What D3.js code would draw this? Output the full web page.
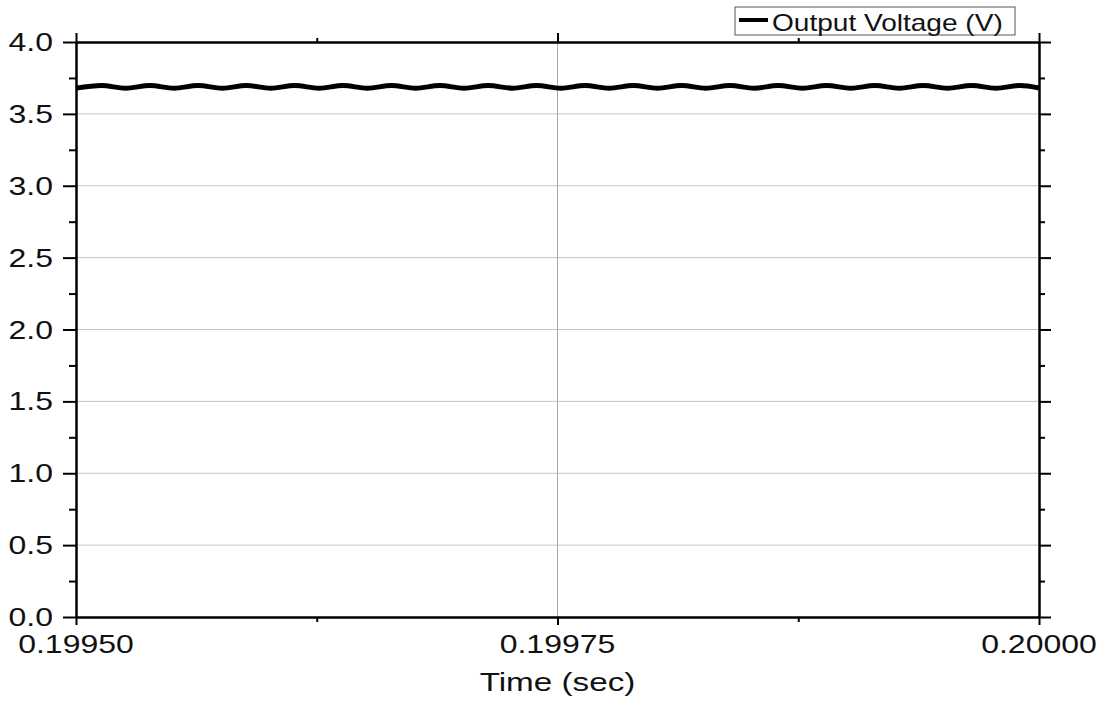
<!DOCTYPE html>
<html>
<head>
<meta charset="utf-8">
<script src="https://cdn.jsdelivr.net/npm/d3@7"></script>
<style>
  body { margin: 0; background: #fff; }
  text { font-family: "Liberation Sans", Arial, sans-serif; fill: #111; }
</style>
</head>
<body>
<svg id="chart" width="1110" height="708"></svg>
<script>
// Output voltage ripple over the last 0.5 ms of the simulation
const timeSec = [
  0.1995000, 0.1995132, 0.1995258, 0.1995383, 0.1995509, 0.1995634, 0.1995760,
  0.1995885, 0.1996011, 0.1996136, 0.1996262, 0.1996387, 0.1996513, 0.1996638,
  0.1996764, 0.1996889, 0.1997015, 0.1997140, 0.1997266, 0.1997391, 0.1997517,
  0.1997642, 0.1997768, 0.1997893, 0.1998019, 0.1998144, 0.1998270, 0.1998395,
  0.1998521, 0.1998646, 0.1998772, 0.1998897, 0.1999023, 0.1999148, 0.1999274,
  0.1999399, 0.1999525, 0.1999650, 0.1999776, 0.1999901, 0.2000000
];
const voltage = [
  3.679, 3.697, 3.679, 3.697, 3.679, 3.697, 3.679,
  3.697, 3.679, 3.697, 3.679, 3.697, 3.679, 3.697,
  3.679, 3.697, 3.679, 3.697, 3.679, 3.697, 3.679,
  3.697, 3.679, 3.697, 3.679, 3.697, 3.679, 3.697,
  3.679, 3.697, 3.679, 3.697, 3.679, 3.697, 3.679,
  3.697, 3.679, 3.697, 3.679, 3.697, 3.680
];

const xMajorTicks = [0.1995, 0.19975, 0.2];
const xMinorTicks = [0.199625, 0.199875];
const xTickLabels = ["0.19950", "0.19975", "0.20000"];
const yMajorTicks = [0, 0.5, 1.0, 1.5, 2.0, 2.5, 3.0, 3.5, 4.0];
const yMinorTicks = [0.25, 0.75, 1.25, 1.75, 2.25, 2.75, 3.25, 3.75];
const yTickLabels = ["0.0", "0.5", "1.0", "1.5", "2.0", "2.5", "3.0", "3.5", "4.0"];
const seriesName = "Output Voltage (V)";
const xTitle = "Time (sec)";

const svg = d3.select("#chart");
const plotLeft = 76, plotRight = 1039, plotTop = 42, plotBottom = 617;
const stretch = 1.28; // wide glyphs

const x = d3.scaleLinear().domain([0.1995, 0.2]).range([plotLeft, plotRight]);
const y = d3.scaleLinear().domain([0, 4]).range([plotBottom, plotTop]);

// grid
const grid = svg.append("g");
grid.selectAll("line.h")
  .data(yMajorTicks.filter(v => v > 0 && v < 4))
  .join("line")
  .attr("x1", plotLeft).attr("x2", plotRight)
  .attr("y1", d => y(d)).attr("y2", d => y(d))
  .attr("stroke", "#c4c4c4").attr("stroke-width", 1);
grid.selectAll("line.v")
  .data(xMajorTicks.filter(v => v > 0.1995 && v < 0.2))
  .join("line")
  .attr("x1", d => x(d)).attr("x2", d => x(d))
  .attr("y1", plotTop).attr("y2", plotBottom)
  .attr("stroke", "#a8a8a8").attr("stroke-width", 1);

// series
const pts = timeSec.map((t, i) => ({ t, v: voltage[i] }));
svg.append("path")
  .datum(pts)
  .attr("fill", "none")
  .attr("stroke", "#000")
  .attr("stroke-width", 5)
  .attr("stroke-linejoin", "round")
  .attr("d", d3.line().x(d => x(d.t)).y(d => y(d.v)).curve(d3.curveMonotoneX));

// axes (frame on all four sides, ticks pointing outward)
function styleAxis(g) {
  g.selectAll("path, line").attr("stroke", "#000").attr("stroke-width", 2);
  g.selectAll("text").remove();
}
svg.append("g").attr("transform", `translate(0,${plotBottom})`)
  .call(d3.axisBottom(x).tickValues(xMajorTicks).tickSize(8).tickSizeOuter(0)).call(styleAxis);
svg.append("g").attr("transform", `translate(0,${plotBottom})`)
  .call(d3.axisBottom(x).tickValues(xMinorTicks).tickSize(5).tickSizeOuter(0)).call(styleAxis);
svg.append("g").attr("transform", `translate(0,${plotTop})`)
  .call(d3.axisTop(x).tickValues(xMajorTicks).tickSize(9).tickSizeOuter(0)).call(styleAxis);
svg.append("g").attr("transform", `translate(0,${plotTop})`)
  .call(d3.axisTop(x).tickValues(xMinorTicks).tickSize(4).tickSizeOuter(0)).call(styleAxis);
svg.append("g").attr("transform", `translate(${plotLeft},0)`)
  .call(d3.axisLeft(y).tickValues(yMajorTicks).tickSize(13).tickSizeOuter(0)).call(styleAxis);
svg.append("g").attr("transform", `translate(${plotLeft},0)`)
  .call(d3.axisLeft(y).tickValues(yMinorTicks).tickSize(7).tickSizeOuter(0)).call(styleAxis);
svg.append("g").attr("transform", `translate(${plotRight},0)`)
  .call(d3.axisRight(y).tickValues(yMajorTicks).tickSize(12).tickSizeOuter(0)).call(styleAxis);
svg.append("g").attr("transform", `translate(${plotRight},0)`)
  .call(d3.axisRight(y).tickValues(yMinorTicks).tickSize(6).tickSizeOuter(0)).call(styleAxis);

// tick labels
svg.append("g").selectAll("text")
  .data(yMajorTicks)
  .join("text")
  .attr("transform", d => `translate(53,${y(d) + 9}) scale(${stretch},1)`)
  .attr("text-anchor", "end")
  .attr("font-size", 25)
  .text((d, i) => yTickLabels[i]);
svg.append("g").selectAll("text")
  .data(xMajorTicks)
  .join("text")
  .attr("transform", d => `translate(${x(d)},653) scale(${stretch},1)`)
  .attr("text-anchor", "middle")
  .attr("font-size", 25)
  .text((d, i) => xTickLabels[i]);

// axis title
svg.append("text")
  .attr("transform", `translate(${(plotLeft + plotRight) / 2},691) scale(1.33,1)`)
  .attr("text-anchor", "middle")
  .attr("font-size", 25)
  .text(xTitle);

// legend
const lg = svg.append("g");
lg.append("rect")
  .attr("x", 735).attr("y", 7).attr("width", 280).attr("height", 28)
  .attr("fill", "#fff").attr("stroke", "#555").attr("stroke-width", 1);
lg.append("line")
  .attr("x1", 739).attr("x2", 768).attr("y1", 20).attr("y2", 20)
  .attr("stroke", "#000").attr("stroke-width", 4);
lg.append("text")
  .attr("transform", `translate(772,31) scale(1.22,1)`)
  .attr("font-size", 23)
  .text(seriesName);
</script>
</body>
</html>
